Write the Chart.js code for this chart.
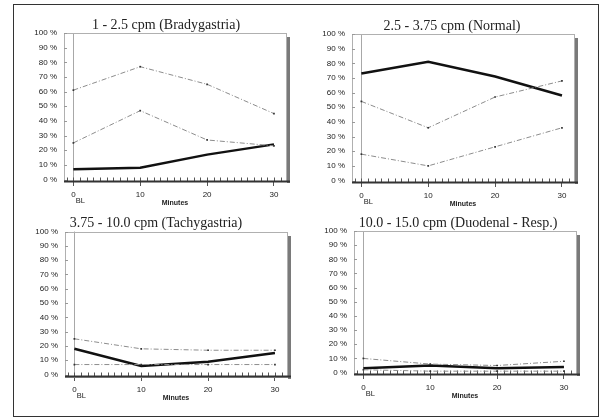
<!DOCTYPE html>
<html><head><meta charset="utf-8">
<script src="https://cdn.jsdelivr.net/npm/chart.js@4.4.1/dist/chart.umd.min.js"></script>
<style>
html,body{margin:0;padding:0;background:#fff;width:601px;height:418px;overflow:hidden;}
#frame{position:absolute;left:13px;top:4px;width:586px;height:413px;border:1px solid #333;box-sizing:border-box;}
canvas{position:absolute;}
</style></head><body>
<div id="frame"></div>
<canvas id="c1"></canvas>
<canvas id="c2"></canvas>
<canvas id="c3"></canvas>
<canvas id="c4"></canvas>
<script>
// ---- data ----
const minutes = [0, 10, 20, 30];
const majorMinuteTicks = [0, 10, 20, 30];
const minorMinuteTicks = [-1,0,1,2,3,4,5,6,7,8,9,10,11,12,13,14,15,16,17,18,19,20,21,22,23,24,25,26,27,28,29,30,31];
const percentTicks = [0, 10, 20, 30, 40, 50, 60, 70, 80, 90, 100];
const baselineSub = 'BL';
const xAxisTitle = 'Minutes';
const panelTitles = [
  '1 - 2.5 cpm (Bradygastria)',
  '2.5 - 3.75 cpm (Normal)',
  '3.75 - 10.0 cpm (Tachygastria)',
  '10.0 - 15.0 cpm (Duodenal - Resp.)'
];
const bradyMean  = [7, 8, 17, 24];
const bradyUpper = [61, 77, 65, 45];
const bradyLower = [25, 47, 27, 23];
const normalMean  = [73, 81, 71, 58];
const normalUpper = [54, 36, 57, 68];
const normalLower = [18, 10, 23, 36];
const tachyMean  = [18, 6, 9, 15];
const tachyUpper = [25, 18, 17, 17];
const tachyLower = [7, 7, 7, 7];
const duodMean  = [3, 5, 3, 4];
const duodUpper = [10, 6, 5, 8];
const duodLower = [2, 1, 1, 1];

// ---- layout (page coordinates) ----
const geo = [
  {id:'c1', L:64,  R:286, T:33,  B:181, tx:166, ty:25},
  {id:'c2', L:352, R:574, T:34,  B:182, tx:452, ty:26},
  {id:'c3', L:65,  R:287, T:231, B:376, tx:156, ty:222.5},
  {id:'c4', L:354, R:576, T:231, B:374, tx:458, ty:223}
];
const seriesSets = [
  [bradyMean, bradyUpper, bradyLower],
  [normalMean, normalUpper, normalLower],
  [tachyMean, tachyUpper, tachyLower],
  [duodMean, duodUpper, duodLower]
];

const pts = arr => minutes.map((m, i) => ({x: m, y: arr[i]}));
const majors = new Set(majorMinuteTicks);

const decor = {
  id: 'decor',
  afterLayout(chart, args, opts) {
    const tb = chart.titleBlock;
    if (tb && opts.titleCenter !== undefined) {
      const w = tb.right - tb.left;
      tb.left = opts.titleCenter - w / 2;
      tb.right = opts.titleCenter + w / 2;
    }
  },
  beforeDatasetsDraw(chart) {
    const {ctx, chartArea: a, scales: {x, y}} = chart;
    ctx.save();
    ctx.strokeStyle = '#b0b0b0';
    ctx.lineWidth = 1;
    ctx.strokeRect(Math.round(a.left) + 0.5, Math.round(a.top) + 0.5, Math.round(a.right - a.left), Math.round(a.bottom - a.top));
    ctx.fillStyle = '#7a7a7a';
    ctx.fillRect(Math.round(a.right) + 1, Math.round(a.top) + 4, 3, Math.round(a.bottom - a.top) - 2);
    ctx.strokeStyle = '#555';
    ctx.lineWidth = 1;
    ctx.beginPath();
    for (const t of minorMinuteTicks) {
      const px = Math.round(x.getPixelForValue(t)) + 0.5;
      ctx.moveTo(px, a.bottom);
      ctx.lineTo(px, a.bottom - 3.5);
    }
    ctx.stroke();
    ctx.strokeStyle = '#999';
    ctx.beginPath();
    for (const v of percentTicks) {
      const py = Math.round(y.getPixelForValue(v)) + 0.5;
      ctx.moveTo(a.left, py);
      ctx.lineTo(a.left + 3, py);
    }
    ctx.stroke();
    ctx.restore();
  },
  afterDatasetsDraw(chart) {
    const {ctx, chartArea: a} = chart;
    ctx.save();
    ctx.strokeStyle = '#333';
    ctx.lineWidth = 2;
    ctx.beginPath();
    ctx.moveTo(a.left, a.bottom + 0.5);
    ctx.lineTo(a.right + 4, a.bottom + 0.5);
    ctx.stroke();
    ctx.restore();
  },
  afterDraw(chart) {
    const {ctx, chartArea: a, scales: {x}} = chart;
    ctx.save();
    ctx.fillStyle = '#222';
    ctx.font = '7.5px "Liberation Sans", Arial, sans-serif';
    ctx.textAlign = 'left';
    ctx.textBaseline = 'middle';
    ctx.fillText(baselineSub, x.getPixelForValue(0) + 2.5, a.bottom + 19.5);
    ctx.restore();
  }
};

geo.forEach((g, i) => {
  const cl = g.L - 42, ct = g.ty - 15;
  const cw = g.R + 12 - cl, ch = g.B + 30 - ct;
  const pr = cl + cw - g.R;
  const yW = g.L - cl;
  const tpTop = g.ty - ct - 7;
  const tpBot = g.T - ct - 14 - tpTop;
  const xH = 26;
  const pb = ch - (g.B - ct) - xH;
  const cv = document.getElementById(g.id);
  cv.width = cw; cv.height = ch;
  cv.style.left = cl + 'px'; cv.style.top = ct + 'px';
  cv.style.width = cw + 'px'; cv.style.height = ch + 'px';
  const [mean, upper, lower] = seriesSets[i];
  const dashed = (arr) => ({
    data: pts(arr),
    borderColor: '#8c8c8c',
    borderWidth: 1,
    borderDash: [5, 2, 1, 2],
    pointRadius: 1.2,
    pointStyle: 'rect',
    pointBackgroundColor: '#333',
    pointBorderColor: '#333',
    pointBorderWidth: 0,
    tension: 0
  });
  new Chart(cv, {
    type: 'line',
    data: {
      datasets: [
        dashed(upper),
        dashed(lower),
        {data: pts(mean), borderColor: '#111', borderWidth: 2.5, pointRadius: 0, tension: 0}
      ]
    },
    options: {
      responsive: false,
      animation: false,
      devicePixelRatio: 1,
      layout: {padding: {left: 0, right: pr, top: 0, bottom: pb}},
      plugins: {
        legend: {display: false},
        tooltip: {enabled: false},
        decor: {titleCenter: g.tx - cl},
        title: {
          display: true,
          text: panelTitles[i],
          color: '#222',
          font: {family: '"Liberation Serif", "Times New Roman", serif', size: 14, weight: 'normal', lineHeight: 1},
          padding: {top: tpTop, bottom: tpBot}
        }
      },
      scales: {
        x: {
          type: 'linear',
          min: -1.4, max: 31.8,
          afterBuildTicks: s => { s.ticks = minorMinuteTicks.map(v => ({value: v})); },
          afterFit: s => { s.height = xH; },
          border: {display: false},
          grid: {
            display: true,
            drawOnChartArea: true,
            drawTicks: true,
            tickLength: 5,
            lineWidth: 1,
            color: c => (c.tick && c.tick.value === 0) ? '#a8a8a8' : 'rgba(0,0,0,0)',
            tickColor: c => (c.tick && majors.has(c.tick.value)) ? '#555' : 'rgba(0,0,0,0)'
          },
          ticks: {
            autoSkip: false, maxRotation: 0, minRotation: 0, padding: 3.5,
            color: '#222',
            font: {family: '"Liberation Sans", Arial, sans-serif', size: 8},
            callback: v => majors.has(v) ? String(v) : ''
          },
          title: {
            display: true, text: xAxisTitle, color: '#222',
            font: {family: '"Liberation Sans", Arial, sans-serif', size: 7, weight: 'bold'},
            padding: {top: 0, bottom: 0}
          }
        },
        y: {
          min: -1, max: 100,
          afterBuildTicks: s => { s.ticks = percentTicks.map(v => ({value: v})); },
          afterFit: s => { s.width = yW; },
          border: {display: false},
          grid: {display: false, drawTicks: false},
          ticks: {
            padding: 7, color: '#222',
            font: {family: '"Liberation Sans", Arial, sans-serif', size: 8},
            callback: v => v + ' %'
          }
        }
      }
    },
    plugins: [decor]
  });
});
</script>
</body></html>
